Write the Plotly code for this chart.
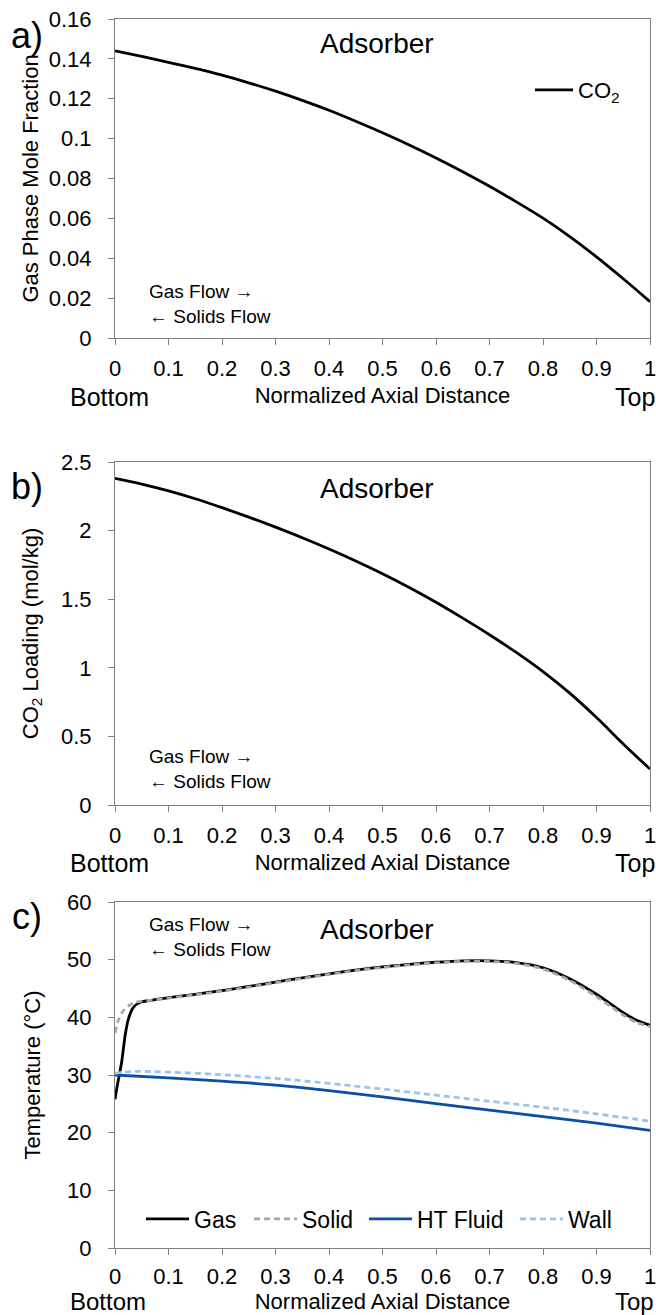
import plotly.graph_objects as go

W, H = 656, 1315
FONT = "Liberation Sans, Arial, sans-serif"

# ---------------- data ----------------
x_a = [0, 0.05, 0.1, 0.15, 0.2, 0.25, 0.3, 0.35, 0.4, 0.45, 0.5, 0.55, 0.6, 0.65,
       0.7, 0.75, 0.8, 0.85, 0.9, 0.95, 1.0]
co2_gas = [0.1440, 0.1412, 0.1383, 0.1352, 0.1318, 0.1280, 0.1238, 0.1192, 0.1142,
           0.1087, 0.1029, 0.0968, 0.0903, 0.0834, 0.0761, 0.0683, 0.0601, 0.0509,
           0.0407, 0.0297, 0.0182]

x_b = [0, 0.05, 0.1, 0.15, 0.2, 0.25, 0.3, 0.35, 0.4, 0.45, 0.5, 0.55, 0.6, 0.65,
       0.7, 0.75, 0.8, 0.85, 0.9, 0.95, 1.0]
co2_loading = [2.381, 2.339, 2.289, 2.232, 2.167, 2.098, 2.025, 1.948, 1.866, 1.779,
               1.686, 1.586, 1.478, 1.362, 1.241, 1.112, 0.972, 0.815, 0.637, 0.445,
               0.262]

x_gas = [0, 0.004, 0.0125, 0.019, 0.025, 0.034, 0.047, 0.07, 0.1, 0.15, 0.2, 0.25,
         0.3, 0.35, 0.4, 0.45, 0.5, 0.55, 0.6, 0.65, 0.7, 0.75, 0.8, 0.85, 0.9,
         0.95, 0.975, 1.0]
t_gas = [25.8, 28.0, 32.3, 36.9, 39.7, 41.7, 42.6, 43.0, 43.4, 44.0, 44.65, 45.35,
         46.1, 46.85, 47.55, 48.2, 48.75, 49.2, 49.55, 49.8, 49.8, 49.5, 48.6, 46.7,
         44.0, 40.8, 39.5, 38.65]

x_solid = [0, 0.006, 0.015, 0.027, 0.038, 0.05, 0.07, 0.1, 0.15, 0.2, 0.25, 0.3,
           0.35, 0.4, 0.45, 0.5, 0.55, 0.6, 0.65, 0.7, 0.75, 0.8, 0.85, 0.9, 0.95,
           0.975, 1.0]
t_solid = [37.3, 39.4, 41.1, 42.1, 42.6, 42.8, 43.0, 43.35, 43.9, 44.55, 45.25, 46.0,
           46.75, 47.45, 48.1, 48.65, 49.1, 49.45, 49.7, 49.7, 49.35, 48.4, 46.4, 43.6,
           40.4, 39.1, 38.4]

x_ht = [0, 0.1, 0.2, 0.3, 0.4, 0.5, 0.6, 0.7, 0.8, 0.9, 1.0]
t_ht = [30.0, 29.5, 28.95, 28.25, 27.3, 26.2, 25.05, 23.9, 22.8, 21.65, 20.4]

x_wall = [0, 0.03, 0.1, 0.2, 0.3, 0.4, 0.5, 0.6, 0.7, 0.8, 0.9, 1.0]
t_wall = [30.3, 30.6, 30.5, 30.05, 29.4, 28.55, 27.55, 26.5, 25.45, 24.4, 23.25, 22.0]

x_ticks = [0, 0.1, 0.2, 0.3, 0.4, 0.5, 0.6, 0.7, 0.8, 0.9, 1.0]
x_ticktext = ["0", "0.1", "0.2", "0.3", "0.4", "0.5", "0.6", "0.7", "0.8", "0.9", "1"]

# ---------------- layout helpers ----------------
def py(p):
    return 1 - p / H

def pxp(p):
    return p / W

XDOM = [pxp(115), pxp(650)]
panels = [  # (top px, bottom px)
    (19, 338),
    (462, 805),
    (902, 1248),
]

AXCOL = "#808080"
LW = 2.8

fig = go.Figure()

fig.add_trace(go.Scatter(x=x_a, y=co2_gas, mode="lines", name="CO<sub>2</sub>",
                         line=dict(color="black", width=LW, shape="spline"),
                         xaxis="x", yaxis="y", legend="legend"))
fig.add_trace(go.Scatter(x=x_b, y=co2_loading, mode="lines", name="CO2 loading",
                         line=dict(color="black", width=LW, shape="spline"),
                         xaxis="x2", yaxis="y2", showlegend=False))
fig.add_trace(go.Scatter(x=x_gas, y=t_gas, mode="lines", name="Gas",
                         line=dict(color="black", width=LW, shape="spline", smoothing=0.8),
                         xaxis="x3", yaxis="y3", legend="legend2"))
fig.add_trace(go.Scatter(x=x_solid, y=t_solid, mode="lines", name="Solid",
                         line=dict(color="#a6a6a6", width=LW, dash="6px,4px",
                                   shape="spline", smoothing=0.8),
                         xaxis="x3", yaxis="y3", legend="legend3"))
fig.add_trace(go.Scatter(x=x_ht, y=t_ht, mode="lines", name="HT Fluid",
                         line=dict(color="#0a4ea6", width=LW, shape="spline"),
                         xaxis="x3", yaxis="y3", legend="legend4"))
fig.add_trace(go.Scatter(x=x_wall, y=t_wall, mode="lines", name="Wall",
                         line=dict(color="#9dc3e6", width=LW, dash="6px,4px", shape="spline"),
                         xaxis="x3", yaxis="y3", legend="legend5"))

def xaxis(anchor, title, lab_standoff=5, title_standoff=7):
    return dict(domain=XDOM, anchor=anchor, range=[0, 1], tickvals=x_ticks,
                ticktext=x_ticktext, automargin=False, ticklabeloverflow="allow",
                showline=True, linecolor=AXCOL, linewidth=1, mirror=True,
                ticks="outside", ticklen=6, tickcolor=AXCOL, showgrid=False, zeroline=False,
                tickfont=dict(size=22, color="black", family=FONT),
                ticklabelstandoff=lab_standoff,
                title=dict(text=title, font=dict(size=22, color="black", family=FONT),
                           standoff=title_standoff))

def yaxis(anchor, dom, rng, dtick, title, standoff):
    return dict(domain=dom, anchor=anchor, range=rng, dtick=dtick, tick0=0,
                automargin=False, ticklabeloverflow="allow",
                showline=True, linecolor=AXCOL, linewidth=1, mirror=True,
                ticks="outside", ticklen=6, tickcolor=AXCOL, showgrid=False, zeroline=False,
                tickfont=dict(size=22, color="black", family=FONT),
                ticklabelstandoff=12,
                title=dict(text=title, font=dict(size=22, color="black", family=FONT),
                           standoff=standoff))

doms = [[py(b), py(t)] for (t, b) in panels]

def leg(xpx, ypx, iw, fs):
    return dict(x=pxp(xpx), y=py(ypx), xanchor="left", yanchor="middle",
                bgcolor="rgba(0,0,0,0)", font=dict(size=fs, family=FONT, color="black"),
                itemwidth=iw)

fig.update_layout(
    width=W, height=H, margin=dict(l=0, r=0, t=0, b=0, autoexpand=False),
    paper_bgcolor="white", plot_bgcolor="white",
    font=dict(family=FONT, color="black"),
    xaxis=xaxis("y", "Normalized Axial Distance"),
    yaxis=yaxis("x", doms[0], [0, 0.16], 0.02, "Gas Phase Mole Fraction", 4),
    xaxis2=xaxis("y2", "Normalized Axial Distance"),
    yaxis2=yaxis("x2", doms[1], [0, 2.5], 0.5, "CO<sub>2</sub> Loading (mol/kg)", 16),
    xaxis3=xaxis("y3", "Normalized Axial Distance", lab_standoff=3, title_standoff=4),
    yaxis3=yaxis("x3", doms[2], [0, 60], 10, "Temperature (°C)", 20),
    legend=leg(530, 90, 38, 22),
    legend2=leg(141, 1219, 43, 23),
    legend3=leg(249, 1219, 43, 23),
    legend4=leg(364, 1219, 43, 23),
    legend5=leg(515, 1219, 43, 23),
    showlegend=True,
)

ann = []
refs = [("x", "y", 0.1476, 0.017), ("x2", "y2", 2.306, 0.265), ("x3", "y3", 55.3, 53.9)]
for xr, yr, ytitle, yflow in refs:
    ann.append(dict(x=0.49, y=ytitle, xref=xr, yref=yr, text="Adsorber", showarrow=False,
                    font=dict(size=28, family=FONT, color="black"), xanchor="center", yanchor="middle"))
    ann.append(dict(x=0.06, y=yflow, xref=xr, yref=yr, text="Gas Flow →<br>← Solids Flow",
                    showarrow=False, align="left", xanchor="left", yanchor="middle",
                    font=dict(size=19, family=FONT, color="black")))

for letter, ypx in [("a)", 35), ("b)", 486), ("c)", 916)]:
    ann.append(dict(x=pxp(27), y=py(ypx), xref="paper", yref="paper", text=letter,
                    showarrow=False, xanchor="center", yanchor="middle",
                    font=dict(size=36, family=FONT, color="black")))

for ypx, fs in [(397, 25), (863, 25), (1301, 24)]:
    ann.append(dict(x=pxp(68), y=py(ypx), xref="paper", yref="paper", text="Bottom",
                    showarrow=False, xanchor="left", yanchor="middle",
                    font=dict(size=fs, family=FONT, color="black")))
    ann.append(dict(x=pxp(613), y=py(ypx), xref="paper", yref="paper", text="Top",
                    showarrow=False, xanchor="left", yanchor="middle",
                    font=dict(size=fs, family=FONT, color="black")))

fig.update_layout(annotations=ann)
fig.write_html("out.html", config={"displayModeBar": False},
               post_script="document.body.style.margin='0';document.body.style.overflow='hidden';")
